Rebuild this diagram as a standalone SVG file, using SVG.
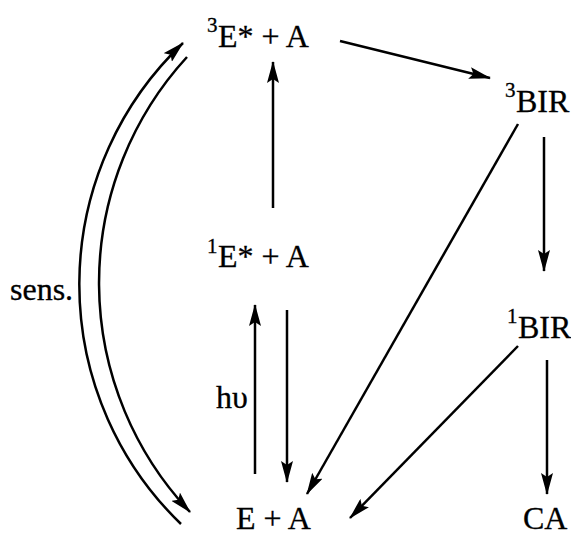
<svg xmlns="http://www.w3.org/2000/svg" width="571" height="540" viewBox="0 0 571 540">
<style>
text{font-family:"Liberation Serif","Times New Roman",serif;fill:#000;stroke:#000;stroke-width:0.3}
.lbl{font-size:32px}
.sup{font-size:21px}
.c{fill:none;stroke:#000;stroke-width:2.5}
</style>
<defs>
<marker id="ah" viewBox="0 0 22 12" refX="21" refY="6" markerWidth="22" markerHeight="12" markerUnits="userSpaceOnUse" orient="auto">
<path d="M0,0 L22,6 L0,12 L4,6 z" fill="#000"/>
</marker>
</defs>
<rect width="571" height="540" fill="#fff"/>
<g id="connectors">
<path class="c" d="M181,524 A333,333 0 0 1 183,43" marker-end="url(#ah)"/>
<path class="c" d="M187,57 A334,334 0 0 0 190,512" marker-end="url(#ah)"/>
<line class="c" x1="273" y1="208" x2="273" y2="62" marker-end="url(#ah)"/>
<line class="c" x1="255" y1="474" x2="255" y2="305" marker-end="url(#ah)"/>
<line class="c" x1="287" y1="310" x2="287" y2="482" marker-end="url(#ah)"/>
<line class="c" x1="340" y1="41" x2="490" y2="78" marker-end="url(#ah)"/>
<line class="c" x1="518" y1="124" x2="307" y2="494" marker-end="url(#ah)"/>
<line class="c" x1="544" y1="137" x2="544" y2="271" marker-end="url(#ah)"/>
<line class="c" x1="518" y1="346" x2="350" y2="518" marker-end="url(#ah)"/>
<line class="c" x1="547" y1="360" x2="547" y2="494" marker-end="url(#ah)"/>
</g>
<g id="n3E"><text class="sup" x="207" y="32">3</text><text class="lbl" x="218" y="47">E* + A</text></g>
<g id="n1E"><text class="sup" x="207" y="253">1</text><text class="lbl" x="218" y="267">E* + A</text></g>
<g id="nEA"><text class="lbl" x="236" y="529">E + A</text></g>
<g id="n3BIR"><text class="sup" x="505" y="97">3</text><text class="lbl" x="516" y="112">BIR</text></g>
<g id="n1BIR"><text class="sup" x="507" y="323">1</text><text class="lbl" x="518" y="338">BIR</text></g>
<g id="nCA"><text class="lbl" x="523" y="529">CA</text></g>
<g id="lsens"><text class="lbl" x="10" y="300">sens.</text></g>
<g id="lhv"><text class="lbl" x="216" y="408">hυ</text></g>
</svg>
